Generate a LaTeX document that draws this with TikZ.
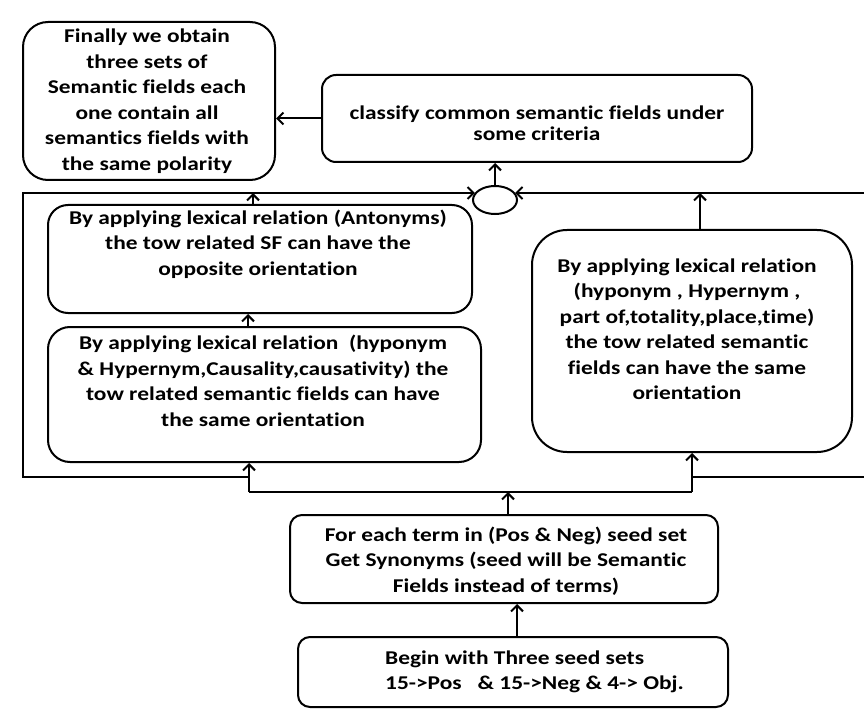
\documentclass[tikz,border=0pt]{standalone}
\usepackage{fontspec}
\setmainfont{Carlito}[FakeStretch=1.2, Ligatures={TeX,NoCommon}]
\usetikzlibrary{arrows.meta,shapes.geometric}

\tikzset{
  box/.style={draw=black, line width=2pt, rounded corners=#1, inner sep=0pt},
  box/.default=20pt,
  txt/.style={align=center, inner sep=0pt,
    font=\fontsize{19.5}{25.5}\selectfont\bfseries},
  wire/.style={line width=2pt},
  link/.style={line width=2pt, -{Straight Barb[length=6pt,width=12pt]}},
  hub/.style={draw=black, line width=2pt, ellipse, inner sep=0pt,
    minimum width=44pt, minimum height=28pt},
}

\begin{document}
\begin{tikzpicture}[x=1pt, y=-1pt]
\useasboundingbox (0,0) rectangle (864,711);

% process boxes
\node[box=25pt, minimum width=252pt, minimum height=158pt] (fin) at (149,101) {};
\node[box=14pt, minimum width=430pt, minimum height=87pt] (cls) at (537,118.5) {};
\node[box=20pt, minimum width=424pt, minimum height=108pt] (ant) at (260,259) {};
\node[box=22pt, minimum width=433pt, minimum height=135pt] (hyp) at (264.5,394.5) {};
\node[box=35pt, minimum width=320pt, minimum height=222pt] (rgt) at (692,341) {};
\node[box=12pt, minimum width=428pt, minimum height=88pt] (syn) at (504,559) {};
\node[box=12pt, minimum width=430pt, minimum height=70pt] (beg) at (513,672) {};
\node[hub] (circ) at (495,200) {};

% box texts
\node[txt] (finT) at (147,101) {Finally we obtain\\three sets of\\Semantic fields each\\one contain all\\semantics fields with\\the same polarity};
\node[txt, font=\fontsize{19.5}{21}\selectfont\bfseries] (clsT) at (537,123) {classify common semantic fields under\\some criteria};
\node[txt] (antT) at (258,244) {By applying lexical relation (Antonyms)\\the tow related SF can have the\\opposite orientation};
\node[txt] (hypT) at (263,381) {By applying lexical relation\ \ (hyponym\\\& Hypernym,Causality,causativity) the\\tow related semantic fields can have\\the same orientation};
\node[txt] (rgtT) at (687,329) {By applying lexical relation\\(hyponym , Hypernym ,\\part of,totality,place,time)\\the tow related semantic\\fields can have the same\\orientation};
\node[txt] (synT) at (506,561) {For each term in (Pos \& Neg) seed set\\Get Synonyms (seed will be Semantic\\Fields instead of terms)};
\node[txt, align=left, anchor=west] (begT) at (385,672) {Begin with Three seed sets\\15->Pos\ \ \ \& 15->Neg \& 4-> Obj.};

% frame and bus coordinates
\coordinate (fTL) at (23,193);
\coordinate (fBL) at (23,477);
\coordinate (jL) at (249,477);
\coordinate (bL) at (249,492);
\coordinate (bR) at (692,492);
\coordinate (jR) at (692,477);
\coordinate (fBR) at (864,477);
\coordinate (fTR) at (864,193);
\coordinate (xa) at (248,0);
\coordinate (xb) at (253,0);
\coordinate (xc) at (700,0);

% loop frame feeding the hub
\draw[link] (jL) -- (fBL) -- (fTL) -- (circ.160 |- fTL);
\draw[wire] (jR) -- (fBR);
\draw[link] (fTR) -- (circ.20 |- fTR);

% hub and top connectors
\draw[link] (circ.north) -- (circ.north |- cls.south);
\draw[link] (cls.west) -- (fin.east |- cls.west);
\draw[link] (ant.north -| xb) -- (fTL -| xb);
\draw[link] (hyp.north -| xa) -- (ant.south -| xa);
\draw[link] (rgt.north -| xc) -- (fTR -| xc);

% bottom bus
\draw[wire] (bL) -- (bR);
\draw[link] (bL) -- (hyp.south -| bL);
\draw[link] (bR) -- (rgt.south -| bR);
\draw[link] ([xshift=4pt]syn.north) -- ([xshift=4pt]syn.north |- bL);
\draw[link] ([xshift=4pt]beg.north) -- ([xshift=4pt]beg.north |- syn.south);
\end{tikzpicture}
\end{document}
